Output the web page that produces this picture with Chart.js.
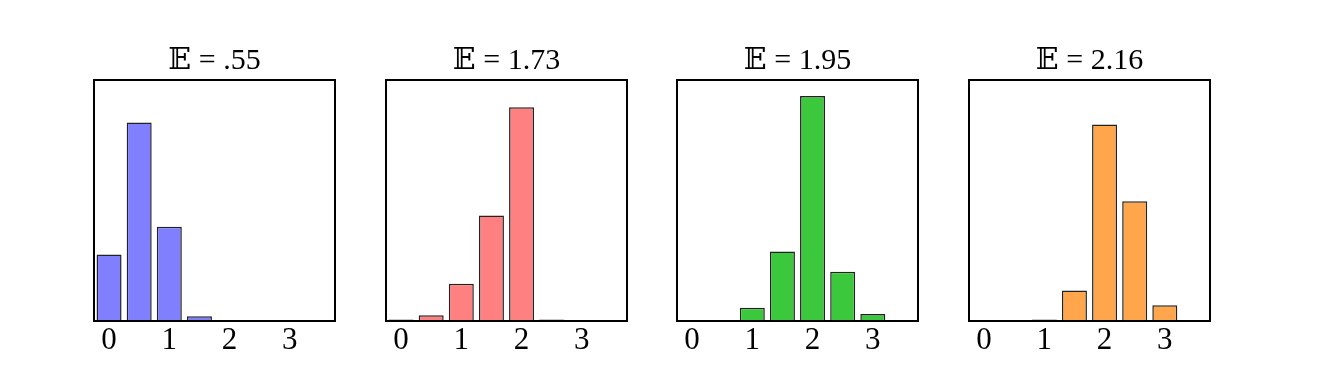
<!DOCTYPE html>
<html>
<head>
<meta charset="utf-8">
<script src="https://cdn.jsdelivr.net/npm/chart.js@4/dist/chart.umd.min.js"></script>
<style>
html,body{margin:0;padding:0;background:#fff;width:1320px;height:378px;overflow:hidden;}
.p{position:absolute;top:0;width:320px;height:378px;}
</style>
</head>
<body>
<div class="p" id="d0"><canvas id="c0" width="320" height="378"></canvas></div>
<div class="p" id="d1"><canvas id="c1" width="320" height="378"></canvas></div>
<div class="p" id="d2"><canvas id="c2" width="320" height="378"></canvas></div>
<div class="p" id="d3"><canvas id="c3" width="320" height="378"></canvas></div>
<script>
// Data
const positions = [0, 0.5, 1, 1.5, 2, 2.5, 3, 3.5];
const tickValues = [0, 1, 2, 3];
const titles = ["\u{1D53C} = .55", "\u{1D53C} = 1.73", "\u{1D53C} = 1.95", "\u{1D53C} = 2.16"];
const probsA = [0.183, 0.545, 0.259, 0.013, 0, 0, 0, 0];
const probsB = [0.004, 0.016, 0.102, 0.290, 0.587, 0.004, 0, 0];
const probsC = [0, 0, 0.0365, 0.191, 0.618, 0.135, 0.019, 0];
const probsD = [0, 0, 0.004, 0.084, 0.540, 0.329, 0.043, 0];
const fills = ["#8080ff", "#ff8080", "#3cc83c", "#ffa64d"];

const series = [probsA, probsB, probsC, probsD];
const panelLefts = [94, 385.7, 677.3, 969];
const areaW = 241;
const padL = 40;
const serif = '"Liberation Serif", "DejaVu Serif", serif';

const framePlugin = {
  id: 'frame',
  afterDatasetsDraw(chart, args, opts) {
    const a = chart.chartArea, ctx = chart.ctx;
    ctx.save();
    ctx.strokeStyle = '#000';
    ctx.lineWidth = 2;
    ctx.strokeRect(a.left, a.top, a.right - a.left, a.bottom - a.top);
    ctx.fillStyle = '#000';
    ctx.font = '30px ' + serif;
    ctx.textAlign = 'center';
    ctx.textBaseline = 'alphabetic';
    ctx.fillText(opts.text, (a.left + a.right) / 2, a.top - 11);
    ctx.restore();
  }
};

series.forEach((vals, i) => {
  const div = document.getElementById('d' + i);
  div.style.left = (panelLefts[i] - padL) + 'px';
  new Chart(document.getElementById('c' + i), {
    type: 'bar',
    data: {
      datasets: [{
        data: positions.map((x, k) => ({x: x, y: vals[k]})),
        backgroundColor: fills[i],
        borderColor: '#222222',
        borderWidth: 1.5,
        borderSkipped: 'start',
        categoryPercentage: 1.0,
        barPercentage: 0.83
      }]
    },
    plugins: [framePlugin],
    options: {
      responsive: false,
      animation: false,
      devicePixelRatio: 1,
      layout: {padding: {left: padL, right: 320 - padL - areaW, top: 80, bottom: 0}},
      plugins: {legend: {display: false}, tooltip: {enabled: false}, title: {display: false},
        frame: {text: titles[i]}},
      scales: {
        x: {
          type: 'linear',
          min: -0.25,
          max: 3.75,
          offset: false,
          grid: {display: false, drawTicks: false},
          border: {display: false},
          afterBuildTicks: (s) => { s.ticks = tickValues.map(v => ({value: v})); },
          afterFit: (s) => { s.height = 57; },
          ticks: {
            color: '#000',
            padding: 1,
            maxRotation: 0,
            autoSkip: false,
            font: {family: serif, size: 31},
            callback: (v) => String(v)
          }
        },
        y: {
          display: false,
          min: 0,
          max: 0.662
        }
      }
    }
  });
});
</script>
</body>
</html>
